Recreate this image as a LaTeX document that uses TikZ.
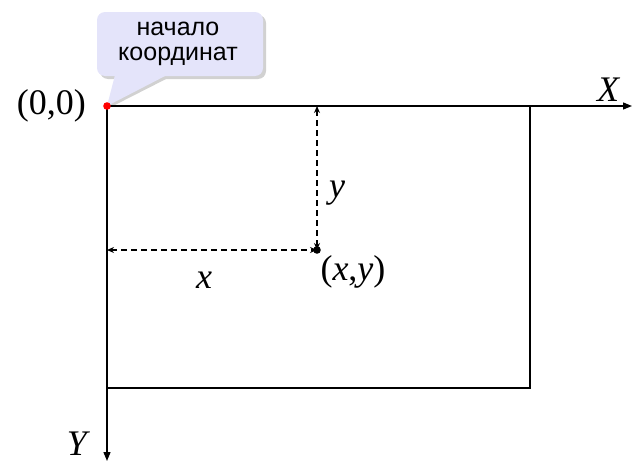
\documentclass[tikz,border=0pt]{standalone}
\usepackage{fontspec}
\setmainfont{Liberation Serif}
\newfontfamily\calloutfont{Liberation Sans}
\usetikzlibrary{arrows.meta}
\definecolor{callfill}{HTML}{E4E4FA}
\begin{document}
\begin{tikzpicture}[x=1pt,y=-1pt,
  axis/.style={line width=1.3pt,-{Triangle[length=9pt,width=7pt]}},
  frame/.style={line width=2pt},
  dim/.style={dashed,dash pattern=on 6pt off 4pt,line width=1.8pt,{Stealth[length=7pt,width=6pt]}-{Stealth[length=7pt,width=6pt]}},
  lab/.style={font=\fontsize{36}{38}\selectfont,inner sep=0pt}]
\useasboundingbox (0,0) rectangle (632,463);
\coordinate (O) at (107,106);
\coordinate (C) at (530,388);
\coordinate (Xend) at (632,106);
\coordinate (Yend) at (107,461);
\coordinate (P) at (317,250);
\coordinate (Ptop) at (317,106);
\coordinate (Pleft) at (107,250);
% callout
\fill[black!18,rounded corners=8pt] (100,15) rectangle (266,79);
\fill[black!18] (118,77) -- (109,108) -- (170,77) -- cycle;
\fill[callfill,rounded corners=8pt] (97,12) rectangle (263,76);
\fill[callfill] (115,75) -- (107,106) -- (167,75) -- cycle;
\node[font=\calloutfont\fontsize{25}{25}\selectfont,align=center,inner sep=0pt] (call) at (178,44) {начало\\координат};
% frame and axes
\draw[frame] (O) rectangle (C);
\draw[axis] (O) -- (Xend);
\draw[axis] (O) -- (Yend);
\draw[dim] (Ptop) -- (P);
\draw[dim] (Pleft) -- (P);
\fill (P) circle (3.8pt);
\fill[red] (O) circle (3.8pt);
\node[lab,anchor=east] (o) at (86,106) {(0,0)};
\node[lab] (X) at (608,90) {\itshape X};
\node[lab] (Y) at (77,444) {\itshape Y};
\node[lab] (y) at (337,193) {\itshape y};
\node[lab] (x) at (204,280) {\itshape x};
\node[lab] (xy) at (353,272) {(\textit{x},\textit{y})};
\end{tikzpicture}
\end{document}
